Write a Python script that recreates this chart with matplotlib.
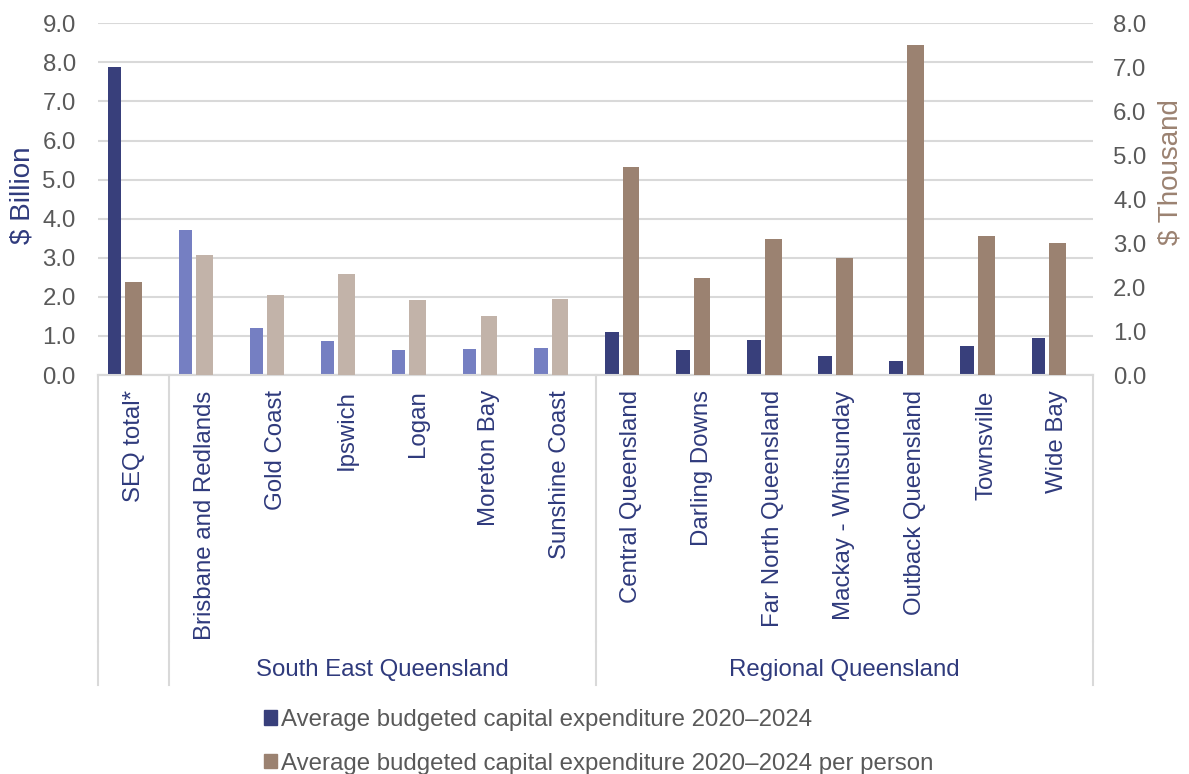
import matplotlib
matplotlib.use("Agg")
import matplotlib.pyplot as plt
from matplotlib.patches import Patch

# data
categories = ["SEQ total*", "Brisbane and Redlands", "Gold Coast", "Ipswich", "Logan",
              "Moreton Bay", "Sunshine Coast", "Central Queensland", "Darling Downs",
              "Far North Queensland", "Mackay - Whitsunday", "Outback Queensland",
              "Townsville", "Wide Bay"]
groups = ["", "South East Queensland", "Regional Queensland"]
group_members = [[0], [1, 2, 3, 4, 5, 6], [7, 8, 9, 10, 11, 12, 13]]
capex_billion = [7.87, 3.71, 1.20, 0.87, 0.64, 0.67, 0.69,
                 1.10, 0.64, 0.90, 0.48, 0.35, 0.75, 0.94]
capex_per_person = [2.12, 2.73, 1.82, 2.30, 1.71, 1.34, 1.73,
                    4.72, 2.20, 3.09, 2.65, 7.51, 3.16, 3.00]
series_names = ["Average budgeted capital expenditure 2020\u20132024",
                "Average budgeted capital expenditure 2020\u20132024 per person"]

NAVY = "#383F7B"
LIGHT_BLUE = "#757FC2"
BROWN = "#9B8271"
LIGHT_BROWN = "#C2B3A9"
TEXT_NAVY = "#2F3A7C"
GREY_TEXT = "#595959"
GRID = "#D9D9D9"

plt.rcParams['font.family'] = ['Liberation Sans', 'DejaVu Sans']
plt.rcParams['font.size'] = 17.3

fig = plt.figure(figsize=(11.89, 7.74), dpi=100)
ax = fig.add_axes([98 / 1189, 1 - 375 / 774, (1093 - 98) / 1189, (375 - 23.3) / 774])
ax2 = ax.twinx()

x = list(range(len(categories)))
blue_cols = [NAVY if i in group_members[0] or i in group_members[2] else LIGHT_BLUE for i in x]
brown_cols = [BROWN if i in group_members[0] or i in group_members[2] else LIGHT_BROWN for i in x]

ax.bar([i - 0.27 for i in x], capex_billion, width=0.19, color=blue_cols, zorder=3)
ax2.bar(x, capex_per_person, width=0.235, color=brown_cols, zorder=3)

ax.set_xlim(-0.5, len(categories) - 0.5)
ax.set_ylim(0, 9)
ax2.set_ylim(0, 8)
ax.set_yticks(range(10))
ax.set_yticklabels([f"{v:.1f}" for v in range(10)])
ax2.set_yticks(range(9))
ax2.set_yticklabels([f"{v:.1f}" for v in range(9)])
ax.grid(axis="y", color=GRID, linewidth=1.5, zorder=0)
ax.set_axisbelow(True)

for a in (ax, ax2):
    for s in ("top", "left", "right"):
        a.spines[s].set_visible(False)
    a.spines["bottom"].set_color(GRID)
    a.spines["bottom"].set_linewidth(1.5)
ax.tick_params(axis="y", length=0, pad=16, labelcolor=GREY_TEXT)
ax2.tick_params(axis="y", length=0, pad=14.4, labelcolor=GREY_TEXT)

ax.set_xticks(x)
ax.set_xticklabels(categories, rotation=90, va="top", ha="center", color=TEXT_NAVY)
ax.tick_params(axis="x", length=0, pad=11)

ax.set_ylabel("$ Billion", color=TEXT_NAVY, fontsize=20)
ax.yaxis.set_label_coords(-(98 - 36) / 995, (375 - 195) / 351.7)
ax2.set_ylabel("$ Thousand", color=BROWN, rotation=90, fontsize=20)
ax2.yaxis.set_label_coords(1 + (1157 - 1093) / 995, (375 - 172) / 351.7)

# multi-level category axis separators and group labels
trans = ax.get_xaxis_transform()
y_bottom = -(685 - 375) / 351.7
y_split = -(641 - 375) / 351.7
for xb in (-0.5, 0.5, 6.5, 13.5):
    ax.plot([xb, xb], [0, y_split], transform=trans, color=GRID, lw=1.5, clip_on=False)
    ax.plot([xb, xb], [y_split - 0.004, y_bottom], transform=trans, color=GRID, lw=1.5,
            clip_on=False)
y_group = -(670 - 375) / 351.7
for name, members in zip(groups, group_members):
    if name:
        xc = (members[0] + members[-1]) / 2
        ax.text(xc, y_group, name, transform=trans, ha="center", va="center",
                color=TEXT_NAVY)

handles = [Patch(color=NAVY), Patch(color=BROWN)]
fig.legend(handles, series_names, loc="upper left", bbox_to_anchor=(252 / 1189, 1 - 697 / 774),
           frameon=False, handlelength=0.55, handleheight=0.55, handletextpad=0.15,
           labelspacing=0.9, labelcolor=GREY_TEXT, borderpad=0)

fig.savefig("out.png", dpi=100)
